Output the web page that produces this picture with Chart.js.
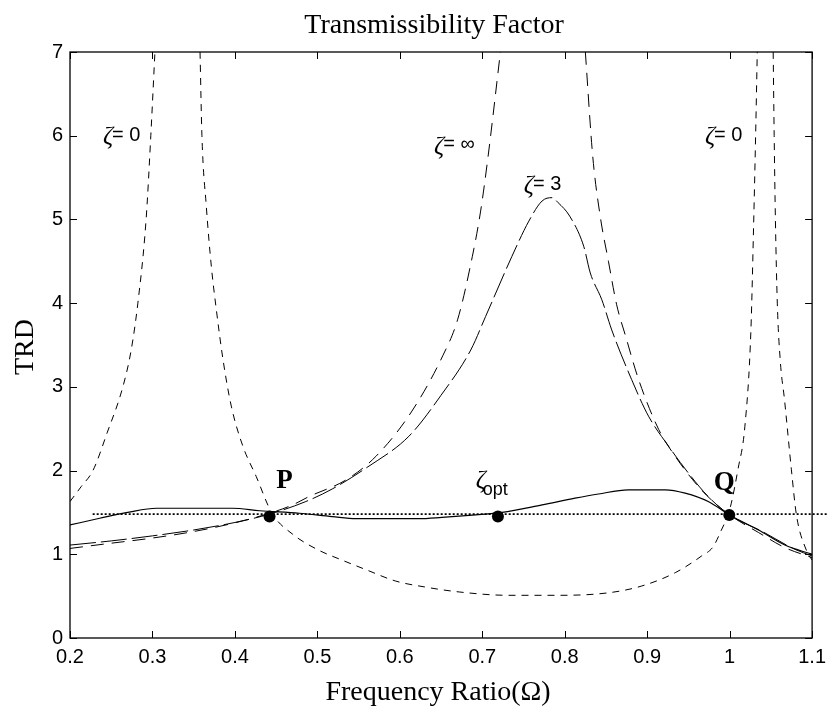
<!DOCTYPE html>
<html>
<head>
<meta charset="utf-8">
<title>Transmissibility Factor</title>
<script src="https://cdn.jsdelivr.net/npm/chart.js@4.4.0/dist/chart.umd.min.js"></script>
<style>
    html, body { margin: 0; padding: 0; background: #fff; }
    #wrap { width: 833px; height: 708px; }
</style>
</head>
<body>
<div id="wrap"><canvas id="chart" width="833" height="708"></canvas></div>
<script>
// Ejes
const xTickValues = [0.2, 0.3, 0.4, 0.5, 0.6, 0.7, 0.8, 0.9, 1.0, 1.1];
const xTickLabels = ['0.2', '0.3', '0.4', '0.5', '0.6', '0.7', '0.8', '0.9', '1', '1.1'];
const yTickValues = [0, 1, 2, 3, 4, 5, 6, 7];

// zeta = 0 (sin amortiguamiento), tres ramas
const zeta0Left = [[0.2, 1.63], [0.2137, 1.81], [0.2278, 2.0], [0.245, 2.45], [0.2641, 3.0], [0.2742, 3.44],
    [0.2823, 4.0], [0.2923, 5.0], [0.298, 6.0], [0.303, 7.0]];
const zeta0Mid = [[0.3577, 7.0], [0.360, 6.0], [0.3653, 5.16], [0.3714, 4.44], [0.3775, 3.92], [0.3855, 3.33],
    [0.3956, 2.77], [0.4097, 2.29], [0.4258, 1.93], [0.445, 1.49], [0.47, 1.24], [0.5004, 1.055], [0.53, 0.93],
    [0.559, 0.816], [0.595, 0.68], [0.63, 0.61], [0.672, 0.55], [0.732, 0.51], [0.793, 0.51], [0.853, 0.54],
    [0.893, 0.62], [0.934, 0.78], [0.966, 0.98], [0.980, 1.09], [0.990, 1.29], [0.998, 1.47], [1.002, 1.61],
    [1.010, 2.01], [1.0185, 2.53], [1.0258, 3.68], [1.029, 4.9], [1.0315, 6.0], [1.0335, 7.0]];
const zeta0Right = [[1.0528, 7.0], [1.054, 6.0], [1.0555, 5.0], [1.0578, 4.0], [1.0615, 3.3], [1.0665, 2.85],
    [1.0749, 2.01], [1.081, 1.47], [1.093, 1.05], [1.1, 0.93]];

// zeta = infinito, dos ramas
const zetaInfLeft = [[0.2, 1.07], [0.248, 1.13], [0.297, 1.19], [0.349, 1.27], [0.3976, 1.37], [0.442, 1.49],
    [0.47, 1.59], [0.49, 1.69], [0.535, 1.89], [0.571, 2.17], [0.614, 2.70], [0.652, 3.37], [0.670, 3.80],
    [0.688, 4.56], [0.698, 5.1], [0.707, 5.75], [0.722, 7.0]];
const zetaInfRight = [[0.825, 7.0], [0.834, 5.75], [0.843, 5.04], [0.853, 4.5], [0.863, 3.98], [0.874, 3.60],
    [0.8895, 3.09], [0.914, 2.49], [0.934, 2.17], [0.962, 1.81], [0.98, 1.63], [1.0, 1.47], [1.035, 1.26],
    [1.067, 1.08], [1.1, 0.96]];

// zeta = 3
const zeta3 = [[0.2, 1.11], [0.25, 1.16], [0.30, 1.22], [0.35, 1.29], [0.40, 1.38], [0.442, 1.48], [0.486, 1.63],
    [0.518, 1.78], [0.559, 2.03], [0.611, 2.41], [0.65, 2.90], [0.686, 3.44], [0.704, 3.84], [0.736, 4.56],
    [0.7565, 4.98], [0.7725, 5.22], [0.7846, 5.26], [0.792, 5.20], [0.806, 5.04], [0.823, 4.68], [0.831, 4.36],
    [0.845, 4.04], [0.857, 3.68], [0.881, 3.09], [0.9016, 2.65], [0.926, 2.29], [0.950, 1.97], [0.974, 1.69],
    [1.0, 1.47], [1.04, 1.27], [1.079, 1.06], [1.1, 0.98]];

// zeta optimo
const zetaOpt = [[0.2, 1.35], [0.236, 1.43], [0.27, 1.50], [0.305, 1.55], [0.397, 1.55], [0.43, 1.52],
    [0.478, 1.49], [0.518, 1.45], [0.547, 1.425], [0.623, 1.425], [0.651, 1.44], [0.692, 1.47], [0.724, 1.50],
    [0.7725, 1.59], [0.8125, 1.67], [0.841, 1.72], [0.877, 1.77], [0.922, 1.77], [0.946, 1.73], [0.974, 1.63],
    [1.0, 1.47], [1.035, 1.29], [1.067, 1.11], [1.1, 1.0]];

// linea horizontal punteada y puntos P, zeta_opt, Q
const levelLine = [[0.2275, 1.48], [1.12, 1.48]];
const markerPoints = [[0.442, 1.45], [0.719, 1.45], [0.9995, 1.47]];

// Etiquetas de texto (posicion en unidades de datos)
const curveLabels = [
    { x: 0.240, y: 6.0, sym: 'ζ', text: '= 0' },
    { x: 0.6415, y: 5.89, sym: 'ζ', text: '= ∞' },
    { x: 0.7504, y: 5.42, sym: 'ζ', text: '= 3' },
    { x: 0.970, y: 6.0, sym: 'ζ', text: '= 0' }
];
const pointLabels = [
    { x: 0.460, y: 1.87, text: 'P' },
    { x: 0.9935, y: 1.855, text: 'Q' }
];
const optLabel = { x: 0.692, y: 1.87, sym: 'ζ', sub: 'opt' };

const toXY = arr => arr.map(p => ({ x: p[0], y: p[1] }));

function curve(data, dash, width) {
    return {
        data: toXY(data),
        showLine: true,
        borderColor: '#000',
        borderWidth: width || 1,
        borderDash: dash,
        pointRadius: 0,
        cubicInterpolationMode: 'monotone',
        fill: false
    };
}

// Marco, ticks hacia dentro y textos
const decorations = {
    id: 'decorations',
    afterDraw(chart) {
        const ctx = chart.ctx;
        const area = chart.chartArea;
        const xs = chart.scales.x;
        const ys = chart.scales.y;
        const tick = 7;
        ctx.save();
        ctx.strokeStyle = '#000';
        ctx.lineWidth = 1.3;
        ctx.strokeRect(area.left, area.top, area.right - area.left, area.bottom - area.top);
        ctx.lineWidth = 1;
        ctx.beginPath();
        xTickValues.forEach(v => {
            const px = Math.round(xs.getPixelForValue(v)) + 0.5;
            ctx.moveTo(px, area.bottom); ctx.lineTo(px, area.bottom - tick);
            ctx.moveTo(px, area.top); ctx.lineTo(px, area.top + tick);
        });
        yTickValues.forEach(v => {
            const py = Math.round(ys.getPixelForValue(v)) + 0.5;
            ctx.moveTo(area.left, py); ctx.lineTo(area.left + tick, py);
            ctx.moveTo(area.right, py); ctx.lineTo(area.right - tick, py);
        });
        ctx.stroke();

        ctx.fillStyle = '#000';
        const serif = '"Liberation Serif", "Times New Roman", serif';
        const sans = '"Liberation Sans", Arial, sans-serif';

        // Titulo y ejes
        ctx.textAlign = 'center';
        ctx.textBaseline = 'alphabetic';
        ctx.font = '28px ' + serif;
        ctx.fillText('Transmissibility Factor', (area.left + area.right) / 2 - 7, 33);
        ctx.fillText('Frequency Ratio(Ω)', (area.left + area.right) / 2 - 3, 700);
        ctx.save();
        ctx.translate(33, 347);
        ctx.rotate(-Math.PI / 2);
        ctx.fillText('TRD', 0, 0);
        ctx.restore();

        // Etiquetas de curvas
        ctx.textAlign = 'left';
        ctx.textBaseline = 'middle';
        curveLabels.forEach(l => {
            const px = xs.getPixelForValue(l.x);
            const py = ys.getPixelForValue(l.y);
            ctx.font = 'italic 25px ' + serif;
            ctx.fillText(l.sym, px, py + 2);
            const w = ctx.measureText(l.sym).width;
            ctx.font = '20px ' + sans;
            ctx.fillText(l.text, px + w - 1, py);
        });

        // P y Q
        ctx.textAlign = 'center';
        ctx.font = 'bold 27px ' + serif;
        pointLabels.forEach(l => {
            ctx.fillText(l.text, xs.getPixelForValue(l.x), ys.getPixelForValue(l.y));
        });

        // zeta_opt
        ctx.textAlign = 'left';
        const ox = xs.getPixelForValue(optLabel.x);
        const oy = ys.getPixelForValue(optLabel.y);
        ctx.font = 'italic 25px ' + serif;
        ctx.fillText(optLabel.sym, ox, oy);
        const zw = ctx.measureText(optLabel.sym).width;
        ctx.font = '18px ' + sans;
        ctx.fillText(optLabel.sub, ox + zw - 3, oy + 9);
        ctx.restore();
    }
};

document.addEventListener('DOMContentLoaded', function() {
    const canvas = document.getElementById('chart');
    if (!canvas) {
        console.error('No se encontró el canvas');
        return;
    }
    const ctx = canvas.getContext('2d');

    const levelDs = curve(levelLine, [2, 2], 1.6);
    levelDs.clip = false;

    new Chart(ctx, {
        type: 'scatter',
        data: {
            datasets: [
                levelDs,
                curve(zeta0Left, [7, 6]),
                curve(zeta0Mid, [7, 6]),
                curve(zeta0Right, [7, 6]),
                curve(zetaInfLeft, [13, 8]),
                curve(zetaInfRight, [13, 8]),
                curve(zeta3, [26, 5]),
                curve(zetaOpt, [], 1.2),
                {
                    data: toXY(markerPoints),
                    showLine: false,
                    pointRadius: 6,
                    pointBackgroundColor: '#000',
                    pointBorderColor: '#000',
                    pointBorderWidth: 0
                }
            ]
        },
        options: {
            responsive: false,
            animation: false,
            layout: { padding: { top: 52, right: 19, left: 0, bottom: 0 } },
            plugins: {
                legend: { display: false },
                title: { display: false },
                tooltip: { enabled: false }
            },
            scales: {
                x: {
                    type: 'linear',
                    min: 0.2,
                    max: 1.1,
                    afterFit: scale => { scale.height = 70; },
                    afterBuildTicks: scale => { scale.ticks = xTickValues.map(v => ({ value: v })); },
                    grid: { display: false, drawTicks: false },
                    border: { display: false },
                    ticks: {
                        padding: 7,
                        color: '#000',
                        font: { family: '"Liberation Sans", Arial, sans-serif', size: 20 },
                        callback: (value, index) => xTickLabels[index]
                    }
                },
                y: {
                    type: 'linear',
                    min: 0,
                    max: 7,
                    afterFit: scale => { scale.width = 70; },
                    afterBuildTicks: scale => { scale.ticks = yTickValues.map(v => ({ value: v })); },
                    grid: { display: false, drawTicks: false },
                    border: { display: false },
                    ticks: {
                        padding: 7,
                        color: '#000',
                        font: { family: '"Liberation Sans", Arial, sans-serif', size: 20 }
                    }
                }
            }
        },
        plugins: [decorations]
    });
});
</script>
</body>
</html>
